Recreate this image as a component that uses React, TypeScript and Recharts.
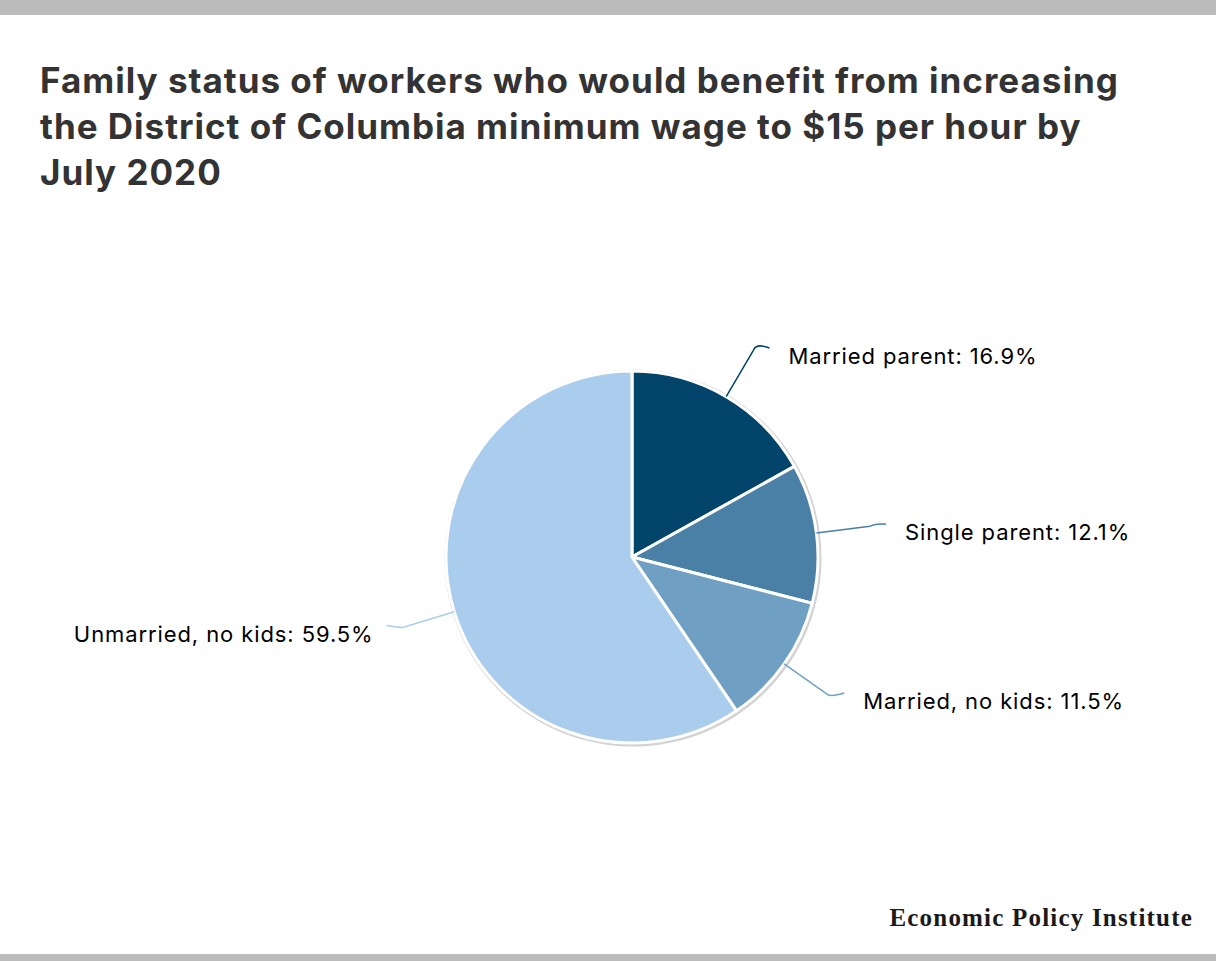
import React from "react";
import { PieChart, Pie, Cell } from "recharts";

const categories = ["Married parent", "Single parent", "Married, no kids", "Unmarried, no kids"];
const shares = [16.9, 12.1, 11.5, 59.5];
const colors = ["#03456a", "#4a80a5", "#6f9fc3", "#aacdee"];
const titleLines = [
  "Family status of workers who would benefit from increasing",
  "the District of Columbia minimum wage to $15 per hour by",
  "July 2020",
];
const sourceLabel = "Economic Policy Institute";

const data = categories.map((name, i) => ({ name, value: shares[i] }));
const ring = [{ name: "ring", value: 100 }];

const RAD = Math.PI / 180;
const FONT = "Inter, Lato, sans-serif";

const renderLabel = (props: any) => {
  const { cx, cy, midAngle, outerRadius, index, name, value } = props;
  const sin = Math.sin(-midAngle * RAD);
  const cos = Math.cos(-midAngle * RAD);
  const sx = cx + outerRadius * cos;
  const sy = cy + outerRadius * sin;
  const r2 = outerRadius + 54;
  const mx = cx + r2 * cos;
  const my = cy + r2 * sin;
  const right = cos >= 0;
  const ex = mx + (right ? 16 : -16);
  const ey = my - 2;
  const c2x = cx + (outerRadius + 60) * cos;
  const c2y = cy + (outerRadius + 60) * sin;
  const tx = ex + (right ? 19 : -13);
  return (
    <g key={"lab" + index}>
      <path
        d={`M${sx},${sy} L${mx},${my} Q${c2x},${c2y - 2} ${ex},${ey}`}
        stroke={colors[index]}
        strokeWidth={1.5}
        fill="none"
      />
      <text
        x={tx}
        y={ey + 8}
        textAnchor={right ? "start" : "end"}
        dominantBaseline="central"
        fill="#000"
        fontSize={22}
        letterSpacing={0.9}
        fontFamily={FONT}
      >
        {`${name}: ${value}%`}
      </text>
    </g>
  );
};

export default function App() {
  return (
    <div
      style={{
        position: "absolute",
        left: 0,
        top: 0,
        width: 1216,
        height: 961,
        background: "#fff",
        overflow: "hidden",
        fontFamily: FONT,
      }}
    >
      <div style={{ position: "absolute", left: 0, top: 0, width: 1216, height: 15, background: "#bbbbbb" }} />
      <div style={{ position: "absolute", left: 0, top: 954, width: 1216, height: 7, background: "#bbbbbb" }} />
      <div
        style={{
          position: "absolute",
          left: 40,
          top: 57,
          fontSize: 35,
          fontWeight: 700,
          letterSpacing: 1.0,
          lineHeight: "46px",
          color: "#333333",
          whiteSpace: "nowrap",
        }}
      >
        {titleLines.map((t, i) => (
          <div key={i}>{t}</div>
        ))}
      </div>
      <div
        style={{
          position: "absolute",
          right: 23,
          top: 904,
          fontSize: 25,
          fontWeight: 700,
          letterSpacing: 1.2,
          fontFamily: "'Liberation Serif', 'DejaVu Serif', serif",
          color: "#1a1a1a",
          whiteSpace: "nowrap",
        }}
      >
        {sourceLabel}
      </div>
      <div style={{ position: "absolute", left: 0, top: 0 }}>
        <PieChart width={1216} height={961} margin={{ top: 0, right: 0, bottom: 0, left: 0 }}>
          <Pie
            data={ring}
            dataKey="value"
            cx={633}
            cy={558}
            outerRadius={188.5}
            innerRadius={0}
            fill="#d2d2d2"
            stroke="none"
            isAnimationActive={false}
          />
          <Pie
            data={data}
            dataKey="value"
            nameKey="name"
            cx={632}
            cy={557}
            outerRadius={186}
            startAngle={90}
            endAngle={-270}
            stroke="#ffffff"
            strokeWidth={3}
            label={renderLabel}
            labelLine={false}
            isAnimationActive={false}
          >
            {data.map((d, i) => (
              <Cell key={d.name} fill={colors[i]} />
            ))}
          </Pie>
        </PieChart>
      </div>
    </div>
  );
}
